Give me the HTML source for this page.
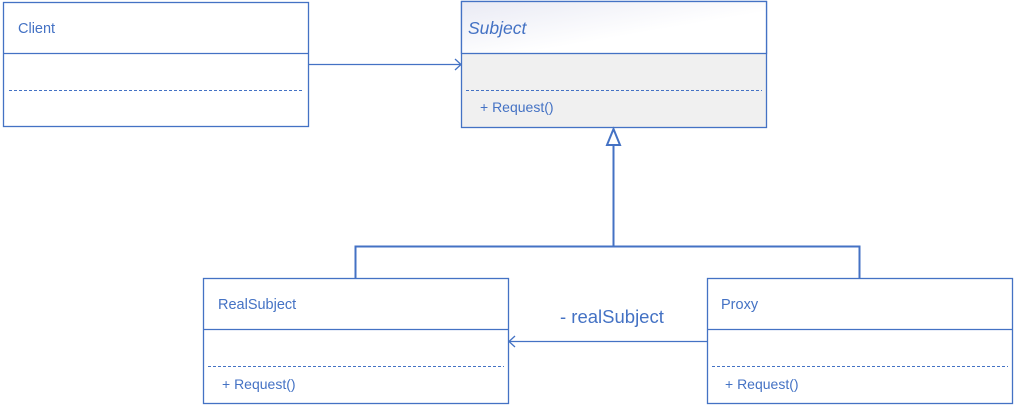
<!DOCTYPE html>
<html><head><style>
body{margin:0;background:#fff;}
</style></head><body>
<svg width="1016" height="405" xmlns="http://www.w3.org/2000/svg" font-family="Liberation Sans, sans-serif">
<defs><linearGradient id="g" x1="0" y1="0" x2="1" y2="1"><stop offset="0" stop-color="#e9eaf4"/><stop offset="0.6" stop-color="#fff"/></linearGradient></defs>
<g stroke="#4472c4" stroke-width="1.3" fill="#fff">
<rect x="3.5" y="2.5" width="305" height="124"/>
<line x1="3.5" y1="53.5" x2="308.5" y2="53.5"/>
<line x1="9" y1="90.5" x2="304" y2="90.5" stroke-dasharray="3,2" stroke-width="1"/>
<rect x="461.5" y="1.5" width="305" height="126" fill="#f0f0f0"/>
<rect x="461.5" y="1.5" width="305" height="52" fill="url(#g)"/>
<line x1="466" y1="90.5" x2="762" y2="90.5" stroke-dasharray="3,2" stroke-width="1"/>
<rect x="203.5" y="278.5" width="305" height="125"/>
<line x1="203.5" y1="329.5" x2="508.5" y2="329.5"/>
<line x1="208" y1="366.5" x2="504" y2="366.5" stroke-dasharray="3,2" stroke-width="1"/>
<rect x="707.5" y="278.5" width="305" height="125"/>
<line x1="707.5" y1="329.5" x2="1012.5" y2="329.5"/>
<line x1="712" y1="366.5" x2="1008" y2="366.5" stroke-dasharray="3,2" stroke-width="1"/>
<path d="M308 64.5H461M455 59L461 64.5L455 70" fill="none"/>
<path d="M613.5 145V246.5M355.5 278V246.5H859.5V278" fill="none" stroke-width="2"/>
<path d="M607 145H620L613.5 129Z" fill="#fff" stroke-width="2"/>
<path d="M707 341.5H509M515 336L509 341.5L515 347" fill="none"/>
</g>
<g fill="#4472c4" font-size="14.5">
<text x="18" y="33">Client</text>
<text x="468" y="34" font-size="17.5" font-style="italic">Subject</text>
<text x="480" y="112" font-size="14">+ Request()</text>
<text x="218" y="309">RealSubject</text>
<text x="222" y="389" font-size="14">+ Request()</text>
<text x="721" y="309">Proxy</text>
<text x="725" y="389" font-size="14">+ Request()</text>
<text x="560" y="323" font-size="18.5">- realSubject</text>
</g>
</svg>
</body></html>
